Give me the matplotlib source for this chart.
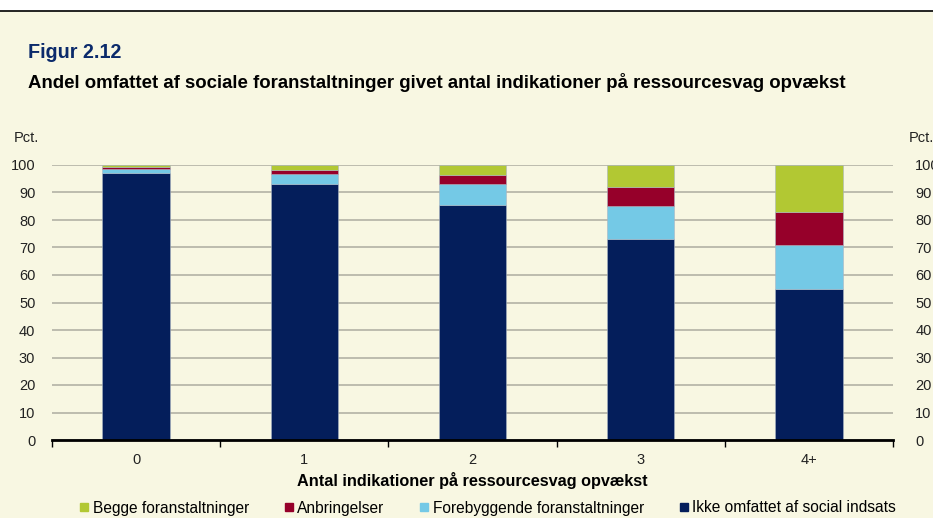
import matplotlib
matplotlib.use("Agg")
import matplotlib.pyplot as plt
from matplotlib.lines import Line2D
import numpy as np

plt.rcParams['font.family'] = ['Liberation Sans', 'DejaVu Sans']

categories = ["0", "1", "2", "3", "4+"]
ikke = [97.2, 93.0, 85.5, 73.0, 54.9]
forebyggende = [1.3, 3.8, 7.6, 12.1, 16.1]
anbringelser = [0.6, 1.4, 3.3, 6.8, 11.9]
begge = [0.9, 1.8, 3.6, 8.1, 17.1]
yticks = [0, 10, 20, 30, 40, 50, 60, 70, 80, 90, 100]

c_ikke = "#041E5B"
c_fore = "#74C9E6"
c_anbr = "#96002A"
c_begge = "#B2C833"
bg = "#F8F7E2"

fig = plt.figure(figsize=(9.33, 5.18), dpi=100)
fig.patch.set_facecolor("white")
# cream panel below the top rule
fig.patches.append(plt.Rectangle((0, 0), 1, 1 - 11/518, transform=fig.transFigure,
                                 facecolor=bg, edgecolor="none", zorder=-10))
fig.lines.append(Line2D([0, 1], [1 - 11/518, 1 - 11/518], transform=fig.transFigure,
                        color="black", lw=1.2, zorder=-5))

ax = fig.add_axes([52/933, 78/518, 841/933, 275/518])
ax.set_facecolor(bg)
x = np.arange(len(categories))
w = 0.4
ec = "#A9B4C2"
b0 = np.array(ikke)
b1 = b0 + np.array(forebyggende)
b2 = b1 + np.array(anbringelser)
ax.bar(x, ikke, w, color=c_ikke, edgecolor=ec, linewidth=0.4, zorder=3)
ax.bar(x, forebyggende, w, bottom=b0, color=c_fore, edgecolor=ec, linewidth=0.4, zorder=3)
ax.bar(x, anbringelser, w, bottom=b1, color=c_anbr, edgecolor=ec, linewidth=0.4, zorder=3)
ax.bar(x, begge, w, bottom=b2, color=c_begge, edgecolor=ec, linewidth=0.4, zorder=3)

ax.set_xlim(-0.5, len(categories) - 0.5)
ax.set_ylim(0, 100)
ax.set_yticks(yticks)
ax.yaxis.grid(True, color="#BDBCAE", linewidth=1.4, zorder=0)
ax.set_axisbelow(True)
for s in ["top", "right", "left"]:
    ax.spines[s].set_visible(False)
ax.spines["bottom"].set_linewidth(2)
ax.spines["bottom"].set_zorder(5)
ax.tick_params(axis="y", length=0, pad=12, labelsize=10.5, labelcolor="#222222")
ax.set_xticks(x)
ax.set_xticklabels(categories)
ax.tick_params(axis="x", which="major", length=0, pad=9, labelsize=10.5,
               labelcolor="#222222")
ax.set_xticks(np.arange(-0.5, len(categories) + 0.5, 1), minor=True)
ax.tick_params(axis="x", which="minor", length=5, width=1, direction="out")
ax.set_xlabel("Antal indikationer på ressourcesvag opvækst", fontsize=11.7,
              fontweight="bold", labelpad=4)

ax2 = ax.twinx()
ax2.set_ylim(0, 100)
ax2.set_yticks(yticks)
for s in ["top", "right", "left", "bottom"]:
    ax2.spines[s].set_visible(False)
ax2.tick_params(axis="y", length=0, pad=16, labelsize=10.5, labelcolor="#222222")

fig.text(14/933, 1 - 138/518, "Pct.", fontsize=10.5, va="center", ha="left", color="#222222")
fig.text(909/933, 1 - 138/518, "Pct.", fontsize=10.5, va="center", ha="left", color="#222222")

fig.text(28/933, 1 - 52/518, "Figur 2.12", fontsize=14.2, fontweight="bold",
         color="#0B2A6B", va="center", ha="left")
fig.text(28/933, 1 - 83/518,
         "Andel omfattet af sociale foranstaltninger givet antal indikationer på ressourcesvag opvækst",
         fontsize=13.4, fontweight="bold", color="black", va="center", ha="left")

handles = [
    Line2D([], [], marker="s", linestyle="none", markersize=5.2, color=c_begge),
    Line2D([], [], marker="s", linestyle="none", markersize=5.2, color=c_anbr),
    Line2D([], [], marker="s", linestyle="none", markersize=5.2, color=c_fore),
    Line2D([], [], marker="s", linestyle="none", markersize=5.2, color=c_ikke),
]
labels = ["Begge foranstaltninger", "Anbringelser", "Forebyggende foranstaltninger",
          "Ikke omfattet af social indsats"]
fig.legend(handles, labels, loc="center", bbox_to_anchor=(488/933, 1 - 508/518), ncol=4,
           frameon=False, fontsize=11.2, handlelength=0.5, handletextpad=0.3,
           columnspacing=2.3)

fig.savefig("out.png", dpi=100, facecolor=fig.get_facecolor())
